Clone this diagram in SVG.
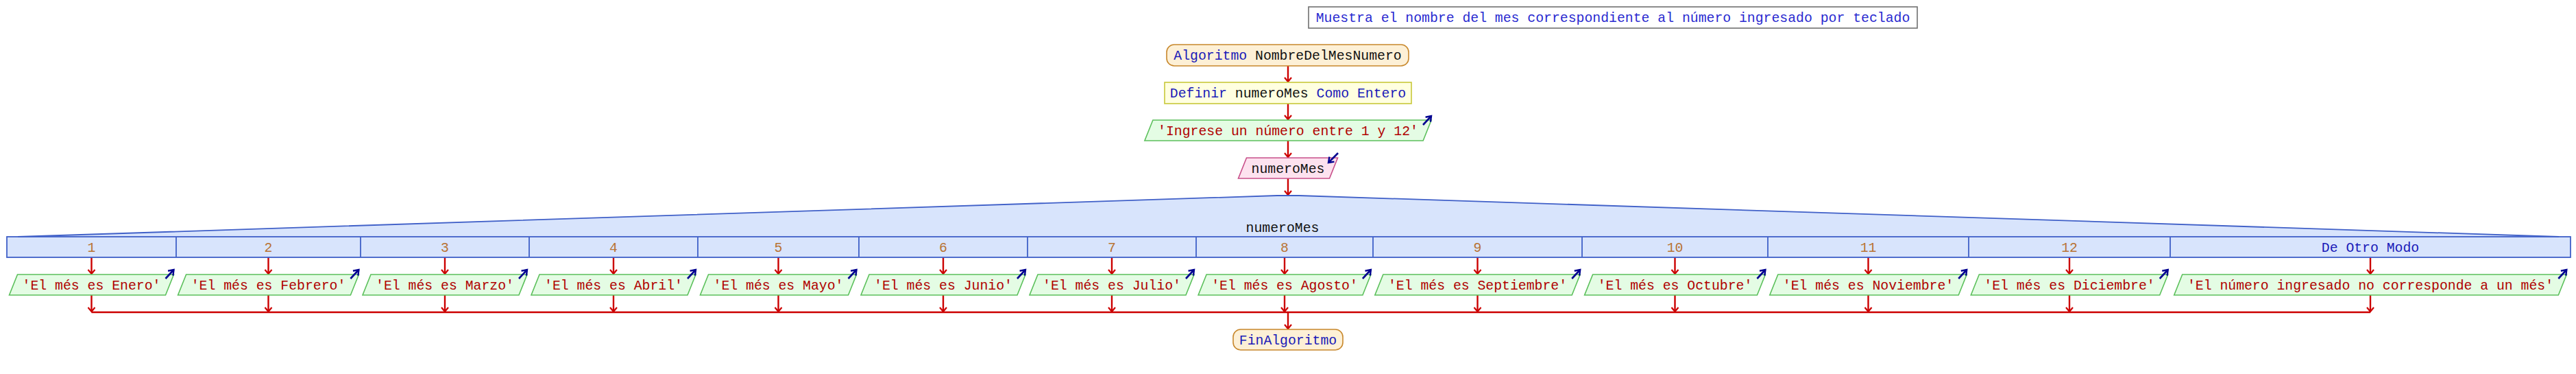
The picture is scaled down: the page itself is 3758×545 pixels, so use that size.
<svg xmlns="http://www.w3.org/2000/svg" width="3758" height="545" viewBox="0 0 3758 545">
<defs>
<style>
text{font-family:"Liberation Mono","Courier New",monospace;font-size:19.8px;text-anchor:middle}
.kw{fill:#1a1ab8}
.id{fill:#111111}
.str{fill:#b00000}
.num{fill:#b87333}
.cmt{fill:#2a2ad0}
.term{fill:#fdf0d6;stroke:#c8882c;stroke-width:1.6}
.def{fill:#ffffe0;stroke:#c8c83a;stroke-width:1.6}
.out{fill:#e4fce4;stroke:#5cc05c;stroke-width:1.6}
.inp{fill:#fde2ef;stroke:#c8508a;stroke-width:1.6}
.sw{fill:#d8e4fc;stroke:none}
.swl{fill:none;stroke:#4060c8;stroke-width:1.8}
.flow{fill:none;stroke:#cc0000;stroke-width:2.4;marker-end:url(#ra)}
.flown{fill:none;stroke:#cc0000;stroke-width:2.4}
.io{fill:none;stroke:#000090;stroke-width:2.6;marker-end:url(#ba)}
</style>
<marker id="ra" viewBox="-8 -7 10 14" markerWidth="10" markerHeight="14" refX="0" refY="0" orient="auto" markerUnits="userSpaceOnUse" overflow="visible">
<path d="M-6,-5 L0,0 L-6,5" fill="none" stroke="#cc0000" stroke-width="2.2"/>
</marker>
<marker id="ba" viewBox="-8 -7 10 14" markerWidth="10" markerHeight="14" refX="0" refY="0" orient="auto" markerUnits="userSpaceOnUse" overflow="visible">
<path d="M-7,-5 L0,0 L-7,5" fill="none" stroke="#000090" stroke-width="2.4"/>
</marker>
</defs>
<rect width="3758" height="545" fill="#ffffff"/>

<g id="comment">
<rect x="1909" y="10" width="888" height="31" fill="#ffffff" stroke="#707070" stroke-width="1.6"/>
<text x="2353" y="32" class="cmt">Muestra el nombre del mes correspondiente al número ingresado por teclado</text>
</g>

<g id="connectors">
<line x1="1879" y1="96" x2="1879" y2="119" class="flow"/>
<line x1="1879" y1="151" x2="1879" y2="174" class="flow"/>
<line x1="1879" y1="205" x2="1879" y2="229" class="flow"/>
<line x1="1879" y1="260" x2="1879" y2="284" class="flow"/>
<line x1="133.5" y1="375" x2="133.5" y2="399" class="flow"/>
<line x1="391.5" y1="375" x2="391.5" y2="399" class="flow"/>
<line x1="649" y1="375" x2="649" y2="399" class="flow"/>
<line x1="895" y1="375" x2="895" y2="399" class="flow"/>
<line x1="1135.5" y1="375" x2="1135.5" y2="399" class="flow"/>
<line x1="1376" y1="375" x2="1376" y2="399" class="flow"/>
<line x1="1622" y1="375" x2="1622" y2="399" class="flow"/>
<line x1="1874" y1="375" x2="1874" y2="399" class="flow"/>
<line x1="2155.5" y1="375" x2="2155.5" y2="399" class="flow"/>
<line x1="2443.5" y1="375" x2="2443.5" y2="399" class="flow"/>
<line x1="2725.5" y1="375" x2="2725.5" y2="399" class="flow"/>
<line x1="3019" y1="375" x2="3019" y2="399" class="flow"/>
<line x1="3458" y1="375" x2="3458" y2="399" class="flow"/>
<line x1="133.5" y1="430" x2="133.5" y2="454" class="flow"/>
<line x1="391.5" y1="430" x2="391.5" y2="454" class="flow"/>
<line x1="649" y1="430" x2="649" y2="454" class="flow"/>
<line x1="895" y1="430" x2="895" y2="454" class="flow"/>
<line x1="1135.5" y1="430" x2="1135.5" y2="454" class="flow"/>
<line x1="1376" y1="430" x2="1376" y2="454" class="flow"/>
<line x1="1622" y1="430" x2="1622" y2="454" class="flow"/>
<line x1="1874" y1="430" x2="1874" y2="454" class="flow"/>
<line x1="2155.5" y1="430" x2="2155.5" y2="454" class="flow"/>
<line x1="2443.5" y1="430" x2="2443.5" y2="454" class="flow"/>
<line x1="2725.5" y1="430" x2="2725.5" y2="454" class="flow"/>
<line x1="3019" y1="430" x2="3019" y2="454" class="flow"/>
<line x1="3458" y1="430" x2="3458" y2="454" class="flow"/>
<line x1="133.5" y1="455" x2="3458" y2="455" class="flown"/>
<line x1="1879" y1="455" x2="1879" y2="479" class="flow"/>
</g>

<g id="inicio">
<rect x="1702" y="65" width="353" height="31" rx="11" class="term"/>
<text x="1878.5" y="87"><tspan class="kw">Algoritmo</tspan><tspan class="id"> NombreDelMesNumero</tspan></text>
</g>

<g id="definir">
<rect x="1699" y="120" width="360" height="31" class="def"/>
<text x="1879" y="142"><tspan class="kw">Definir</tspan><tspan class="id"> numeroMes</tspan><tspan class="kw"> Como Entero</tspan></text>
</g>

<g id="escribir-ingrese">
<polygon points="1681.9,175 2088.1,175 2076.1,205 1669.9,205" class="out"/>
<text x="1879" y="197" class="str">'Ingrese un número entre 1 y 12'</text>
<line x1="2076" y1="182" x2="2088" y2="169" class="io"/>
</g>

<g id="leer-numeroMes">
<polygon points="1818.5,230 1951.5,230 1939.5,260 1806.5,260" class="inp"/>
<text x="1879" y="252" class="id">numeroMes</text>
<line x1="1952" y1="223" x2="1938" y2="237" class="io"/>
</g>

<g id="segun">
<polygon points="26,345 1863,285 1895,285 3733,345 3750,345 3750,375 10,375 10,345" class="sw"/>
<polyline points="26,345 1863,285 1895,285 3733,345" class="swl"/>
<rect x="10" y="345" width="3740" height="30" class="swl"/>
<g class="swl">
<line x1="257" y1="345" x2="257" y2="375"/>
<line x1="526" y1="345" x2="526" y2="375"/>
<line x1="772" y1="345" x2="772" y2="375"/>
<line x1="1018" y1="345" x2="1018" y2="375"/>
<line x1="1253" y1="345" x2="1253" y2="375"/>
<line x1="1499" y1="345" x2="1499" y2="375"/>
<line x1="1745" y1="345" x2="1745" y2="375"/>
<line x1="2003" y1="345" x2="2003" y2="375"/>
<line x1="2308" y1="345" x2="2308" y2="375"/>
<line x1="2579" y1="345" x2="2579" y2="375"/>
<line x1="2872" y1="345" x2="2872" y2="375"/>
<line x1="3166" y1="345" x2="3166" y2="375"/>
</g>
<text x="1871" y="338" class="id">numeroMes</text>
<text x="133.5" y="367" class="num">1</text>
<text x="391.5" y="367" class="num">2</text>
<text x="649" y="367" class="num">3</text>
<text x="895" y="367" class="num">4</text>
<text x="1135.5" y="367" class="num">5</text>
<text x="1376" y="367" class="num">6</text>
<text x="1622" y="367" class="num">7</text>
<text x="1874" y="367" class="num">8</text>
<text x="2155.5" y="367" class="num">9</text>
<text x="2443.5" y="367" class="num">10</text>
<text x="2725.5" y="367" class="num">11</text>
<text x="3019" y="367" class="num">12</text>
<text x="3458" y="367" class="kw">De Otro Modo</text>
</g>

<g id="caso-1">
<polygon points="25.5,400 253.5,400 241.5,430 13.5,430" class="out"/>
<text x="133.5" y="422" class="str">'El més es Enero'</text>
<line x1="241.5" y1="406" x2="253.5" y2="393" class="io"/>
</g>
<g id="caso-2">
<polygon points="271.6,400 523.4,400 511.4,430 259.6,430" class="out"/>
<text x="391.5" y="422" class="str">'El més es Febrero'</text>
<line x1="511.4" y1="406" x2="523.4" y2="393" class="io"/>
</g>
<g id="caso-3">
<polygon points="541,400 769,400 757,430 529,430" class="out"/>
<text x="649" y="422" class="str">'El més es Marzo'</text>
<line x1="757" y1="406" x2="769" y2="393" class="io"/>
</g>
<g id="caso-4">
<polygon points="787,400 1015,400 1003,430 775,430" class="out"/>
<text x="895" y="422" class="str">'El més es Abril'</text>
<line x1="1003" y1="406" x2="1015" y2="393" class="io"/>
</g>
<g id="caso-5">
<polygon points="1033.5,400 1249.5,400 1237.5,430 1021.5,430" class="out"/>
<text x="1135.5" y="422" class="str">'El més es Mayo'</text>
<line x1="1237.5" y1="406" x2="1249.5" y2="393" class="io"/>
</g>
<g id="caso-6">
<polygon points="1268,400 1496,400 1484,430 1256,430" class="out"/>
<text x="1376" y="422" class="str">'El més es Junio'</text>
<line x1="1484" y1="406" x2="1496" y2="393" class="io"/>
</g>
<g id="caso-7">
<polygon points="1514,400 1742,400 1730,430 1502,430" class="out"/>
<text x="1622" y="422" class="str">'El més es Julio'</text>
<line x1="1730" y1="406" x2="1742" y2="393" class="io"/>
</g>
<g id="caso-8">
<polygon points="1760.1,400 1999.9,400 1987.9,430 1748.1,430" class="out"/>
<text x="1874" y="422" class="str">'El més es Agosto'</text>
<line x1="1987.9" y1="406" x2="1999.9" y2="393" class="io"/>
</g>
<g id="caso-9">
<polygon points="2017.8,400 2305.2,400 2293.2,430 2005.8,430" class="out"/>
<text x="2155.5" y="422" class="str">'El més es Septiembre'</text>
<line x1="2293.2" y1="406" x2="2305.2" y2="393" class="io"/>
</g>
<g id="caso-10">
<polygon points="2323.6,400 2575.4,400 2563.4,430 2311.6,430" class="out"/>
<text x="2443.5" y="422" class="str">'El més es Octubre'</text>
<line x1="2563.4" y1="406" x2="2575.4" y2="393" class="io"/>
</g>
<g id="caso-11">
<polygon points="2593.8,400 2869.2,400 2857.2,430 2581.8,430" class="out"/>
<text x="2725.5" y="422" class="str">'El més es Noviembre'</text>
<line x1="2857.2" y1="406" x2="2869.2" y2="393" class="io"/>
</g>
<g id="caso-12">
<polygon points="2887.3,400 3162.7,400 3150.7,430 2875.3,430" class="out"/>
<text x="3019" y="422" class="str">'El més es Diciembre'</text>
<line x1="3150.7" y1="406" x2="3162.7" y2="393" class="io"/>
</g>
<g id="caso-otro">
<polygon points="3183.7,400 3744.3,400 3732.3,430 3171.7,430" class="out"/>
<text x="3458" y="422" class="str">'El número ingresado no corresponde a un més'</text>
<line x1="3732.3" y1="406" x2="3744.3" y2="393" class="io"/>
</g>

<g id="fin">
<rect x="1799" y="480" width="160" height="30" rx="11" class="term"/>
<text x="1879" y="502" class="kw">FinAlgoritmo</text>
</g>
</svg>
